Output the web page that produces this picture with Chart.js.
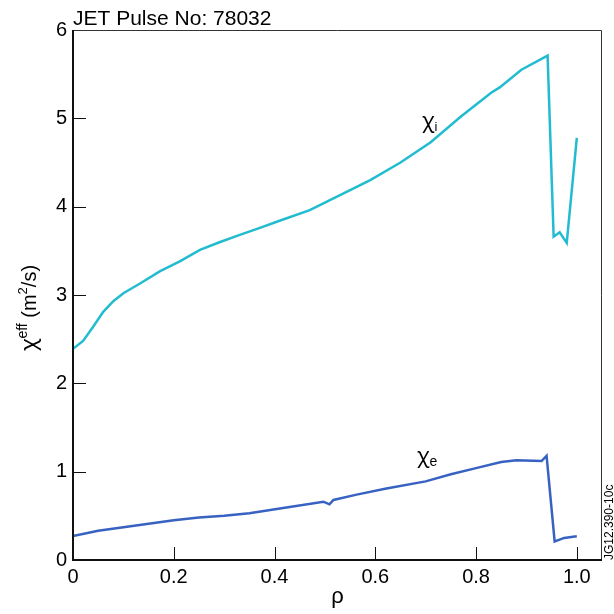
<!DOCTYPE html>
<html lang="en">
  <head>
    <meta charset="UTF-8" />
    <title>JET Pulse No: 78032</title>
    <script src="https://cdn.jsdelivr.net/npm/chart.js"></script>
    <style>
      body { margin: 0; background: #fff; }
      #chart-container { width: 614px; height: 614px; }
    </style>
  </head>
  <body>
    <div id="chart-container">
      <canvas id="my-chart" width="614" height="614"></canvas>
    </div>

    <script>
      // chi_i (ion) profile
      const rhoI = [0, 0.02, 0.04, 0.06, 0.08, 0.1, 0.133, 0.173, 0.212, 0.252, 0.292, 0.331, 0.371, 0.41, 0.47, 0.53, 0.59, 0.65, 0.71, 0.77, 0.83, 0.847, 0.89, 0.942, 0.954, 0.966, 0.98, 1.0];
      const chiI = [2.39, 2.48, 2.64, 2.81, 2.93, 3.02, 3.13, 3.27, 3.38, 3.51, 3.6, 3.68, 3.76, 3.84, 3.96, 4.13, 4.3, 4.5, 4.73, 5.02, 5.29, 5.35, 5.55, 5.71, 3.66, 3.71, 3.59, 4.78];

      // chi_e (electron) profile
      const rhoE = [0, 0.05, 0.1, 0.15, 0.2, 0.25, 0.3, 0.35, 0.43, 0.497, 0.509, 0.517, 0.563, 0.622, 0.7, 0.75, 0.8, 0.85, 0.88, 0.93, 0.94, 0.956, 0.975, 1.0];
      const chiE = [0.27, 0.33, 0.37, 0.41, 0.45, 0.48, 0.5, 0.53, 0.6, 0.66, 0.63, 0.68, 0.74, 0.81, 0.89, 0.97, 1.04, 1.11, 1.13, 1.12, 1.18, 0.21, 0.25, 0.27];

      const xTicks = [0, 0.2, 0.4, 0.6, 0.8, 1.0];
      const xTickLabels = ["0", "0.2", "0.4", "0.6", "0.8", "1.0"];
      const yTicks = [0, 1, 2, 3, 4, 5, 6];
      const yTickLabels = ["0", "1", "2", "3", "4", "5", "6"];

      const FONT = "'Liberation Sans', Arial, sans-serif";
      const CHI_FONT = "'Noto Sans', 'DejaVu Sans', sans-serif";

      function toPoints(xs, ys) {
        return xs.map((x, i) => ({ x: x, y: ys[i] }));
      }

      // chi with a sub/superscript, returns the width drawn
      function drawParts(ctx, parts, x, y) {
        let cx = x;
        parts.forEach((p) => {
          ctx.font = p.f;
          ctx.fillText(p.t, cx, y + p.dy);
          cx += ctx.measureText(p.t).width;
        });
        return cx - x;
      }

      // frame, inward ticks and the extra texts
      const extras = {
        id: "extras",
        afterDraw(chart) {
          const ctx = chart.ctx;
          const a = chart.chartArea;
          const xs = chart.scales.x;
          const ys = chart.scales.y;
          ctx.save();

          // frame
          ctx.strokeStyle = "#333";
          ctx.lineWidth = 1;
          ctx.beginPath();
          ctx.moveTo(a.left, a.top + 0.5);
          ctx.lineTo(a.right - 0.5, a.top + 0.5);
          ctx.lineTo(a.right - 0.5, a.bottom);
          ctx.stroke();
          ctx.strokeStyle = "#111";
          ctx.lineWidth = 2;
          ctx.beginPath();
          ctx.moveTo(a.left, a.top);
          ctx.lineTo(a.left, a.bottom);
          ctx.lineTo(a.right, a.bottom);
          ctx.stroke();

          // inward ticks
          ctx.lineWidth = 1;
          ctx.beginPath();
          xTicks.forEach((v) => {
            if (v === 0) return;
            const px = Math.round(xs.getPixelForValue(v)) + 0.5;
            ctx.moveTo(px, a.bottom);
            ctx.lineTo(px, a.bottom - 13);
          });
          yTicks.forEach((v) => {
            if (v === 0 || v === 6) return;
            const py = Math.round(ys.getPixelForValue(v)) + 0.5;
            ctx.moveTo(a.left, py);
            ctx.lineTo(a.left + 13, py);
          });
          ctx.stroke();

          ctx.fillStyle = "#000";
          ctx.textBaseline = "alphabetic";
          ctx.textAlign = "left";

          // title
          ctx.font = "21px " + FONT;
          ctx.fillText("JET Pulse No: 78032", a.left, 25);

          // curve labels
          drawParts(ctx, [
            { t: "χ", f: "21px " + CHI_FONT, dy: 0 },
            { t: "i", f: "13px " + FONT, dy: 3 },
          ], 422, 128);
          drawParts(ctx, [
            { t: "χ", f: "21px " + CHI_FONT, dy: 0 },
            { t: "e", f: "14px " + FONT, dy: 3 },
          ], 417, 463);

          // y axis title
          ctx.save();
          ctx.translate(36, 308);
          ctx.rotate(-Math.PI / 2);
          const parts = [
            { t: "χ", f: "21px " + CHI_FONT, dy: 0 },
            { t: "eff", f: "14px " + FONT, dy: -9 },
            { t: " (m", f: "20px " + FONT, dy: 0 },
            { t: "2", f: "13px " + FONT, dy: -9 },
            { t: "/s)", f: "20px " + FONT, dy: 0 },
          ];
          let total = 0;
          parts.forEach((p) => {
            ctx.font = p.f;
            total += ctx.measureText(p.t).width;
          });
          drawParts(ctx, parts, -total / 2, 0);
          ctx.restore();

          // figure code on the right edge
          ctx.save();
          ctx.translate(613, 560);
          ctx.rotate(-Math.PI / 2);
          ctx.font = "12px " + FONT;
          ctx.fillText("JG12.390-10c", 0, 0);
          ctx.restore();

          ctx.restore();
        },
      };

      const ctx = document.getElementById("my-chart").getContext("2d");
      const myChart = new Chart(ctx, {
        type: "line",
        data: {
          datasets: [
            {
              label: "chi_i",
              data: toPoints(rhoI, chiI),
              borderColor: "#22bcd0",
              borderWidth: 2.5,
              pointRadius: 0,
              tension: 0,
              fill: false,
            },
            {
              label: "chi_e",
              data: toPoints(rhoE, chiE),
              borderColor: "#3862c2",
              borderWidth: 2.5,
              pointRadius: 0,
              tension: 0,
              fill: false,
            },
          ],
        },
        options: {
          responsive: false,
          animation: false,
          devicePixelRatio: 1,
          layout: { padding: { top: 30, right: 12, left: 0, bottom: 0 } },
          plugins: {
            legend: { display: false },
            tooltip: { enabled: false },
          },
          scales: {
            x: {
              type: "linear",
              min: 0,
              max: 1.05,
              afterBuildTicks: (scale) => {
                scale.ticks = xTicks.map((v) => ({ value: v }));
              },
              afterFit: (scale) => {
                scale.height = 54;
              },
              grid: { display: false, drawTicks: false },
              border: { display: false },
              ticks: {
                autoSkip: false,
                maxRotation: 0,
                padding: 5,
                color: "#000",
                font: { family: FONT, size: 20 },
                callback: (value, i) => xTickLabels[i],
              },
              title: {
                display: true,
                text: "ρ",
                color: "#000",
                font: { family: FONT, size: 22 },
                padding: { top: 0, bottom: 4 },
              },
            },
            y: {
              min: 0,
              max: 6,
              afterBuildTicks: (scale) => {
                scale.ticks = yTicks.map((v) => ({ value: v }));
              },
              afterFit: (scale) => {
                scale.width = 73;
              },
              grid: { display: false, drawTicks: false },
              border: { display: false },
              ticks: {
                autoSkip: false,
                padding: 6,
                color: "#000",
                font: { family: FONT, size: 20 },
                callback: (value, i) => yTickLabels[i],
              },
            },
          },
        },
        plugins: [extras],
      });
    </script>
  </body>
</html>
